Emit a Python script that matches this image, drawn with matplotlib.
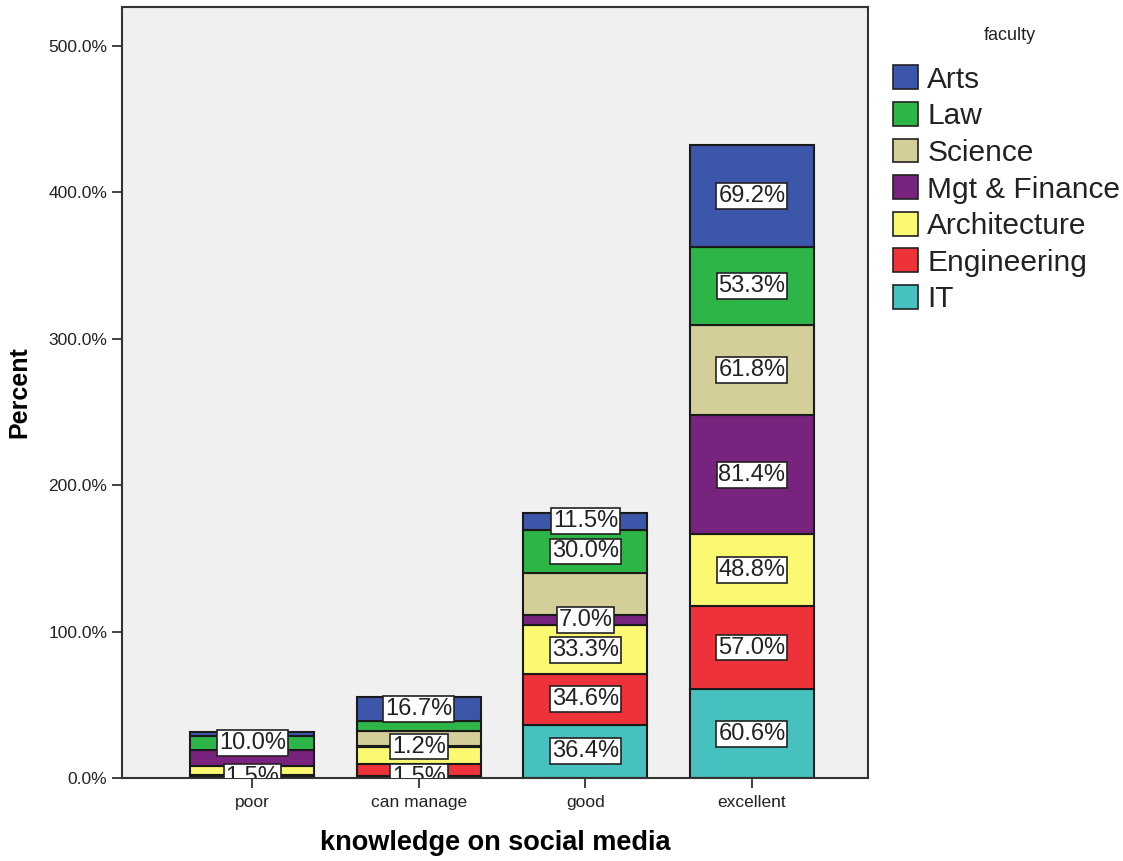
import matplotlib.pyplot as plt
from matplotlib.patches import Patch
import matplotlib.ticker as ticker
import numpy as np

plt.rcParams['font.family'] = ['Liberation Sans', 'DejaVu Sans']

categories = ['poor', 'can manage', 'good', 'excellent']

# stack order, bottom to top
faculties = ['IT', 'Engineering', 'Architecture', 'Mgt & Finance', 'Science', 'Law', 'Arts']
it = [1.5, 1.5, 36.4, 60.6]
engineering = [0.5, 7.9, 34.6, 57.0]
architecture = [6.4, 11.5, 33.3, 48.8]
mgt_finance = [10.4, 1.2, 7.0, 81.4]
science = [0.0, 9.8, 28.4, 61.8]
law = [10.0, 6.7, 30.0, 53.3]
arts = [2.6, 16.7, 11.5, 69.2]
series = [it, engineering, architecture, mgt_finance, science, law, arts]

colors = ['#46C1C0', '#EE3239', '#FBF872', '#78247E', '#D4CE98', '#2EB548', '#3C56AA']

LABEL_HALF = 9.3  # half height of a value label, in percent units

fig = plt.figure(figsize=(11.23, 8.61), dpi=100)
ax = fig.add_axes([0.1086, 0.0964, 0.6643, 0.8955])
ax.set_facecolor('#F0F0F0')

x = np.arange(len(categories))
bottom = np.zeros(len(categories))
label_pos = [[] for _ in categories]
for name, vals, col in zip(faculties, series, colors):
    vals = np.array(vals)
    ax.bar(x, vals, bottom=bottom, width=0.745, color=col, edgecolor='#1a1a1a',
           linewidth=1.5, zorder=2)
    for i in range(len(categories)):
        if vals[i] > 0:
            label_pos[i].append((bottom[i] + vals[i] / 2, vals[i]))
    bottom = bottom + vals

# value labels, skipping any that would overlap the one below (like SPSS)
for i in range(len(categories)):
    last_top = -1e9
    for center, v in label_pos[i]:
        if center - LABEL_HALF < last_top:
            continue
        t = ax.text(x[i], center, '%.1f%%' % v, ha='center', va='center',
                    fontsize=17, color='#222222', zorder=4,
                    bbox=dict(boxstyle='square,pad=0.08', facecolor='white',
                              edgecolor='#222222', linewidth=1.2))
        t.set_clip_on(True)
        last_top = center + LABEL_HALF

ax.set_xlim(-0.784, 3.697)
ax.set_ylim(0, 526.6)
ax.set_xticks(x)
ax.set_xticklabels(categories)
ax.yaxis.set_major_locator(ticker.MultipleLocator(100))
ax.yaxis.set_major_formatter(ticker.FuncFormatter(lambda v, p: '%.1f%%' % v))
ax.tick_params(axis='both', direction='out', length=7, width=1.2, labelsize=12.5,
               labelcolor='#222222', color='#222222')
ax.tick_params(axis='x', pad=5)
for sp in ax.spines.values():
    sp.set_linewidth(1.5)
    sp.set_color('#333333')

ax.set_ylabel('Percent', fontsize=18, fontweight='bold', labelpad=12)
ax.set_xlabel('knowledge on social media', fontsize=19.5, fontweight='bold', labelpad=15)

handles = [Patch(facecolor=c, edgecolor='#222222', linewidth=1.2, label=n)
           for n, c in zip(faculties, colors)][::-1]
leg = fig.legend(handles=handles, loc='upper left', bbox_to_anchor=(0.795, 0.924),
                 frameon=False, fontsize=21.5, borderpad=0, borderaxespad=0,
                 handlelength=0.85, handleheight=0.85, handletextpad=0.3,
                 labelspacing=0.28)
for t in leg.get_texts():
    t.set_color('#222222')
fig.text(0.899, 0.959, 'faculty', ha='center', va='center', fontsize=13, color='#222222')

plt.savefig('out.png', dpi=100)
